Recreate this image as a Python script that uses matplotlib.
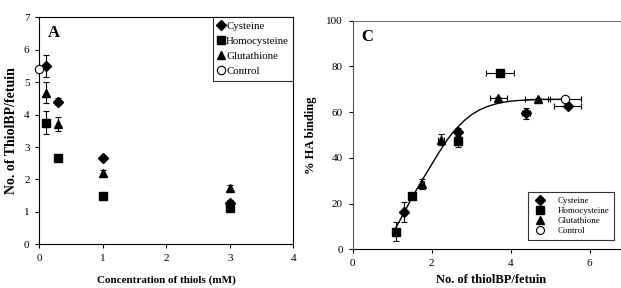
import matplotlib.pyplot as plt
from matplotlib.lines import Line2D

plt.rcParams['font.family'] = ['Liberation Serif', 'DejaVu Serif']

# Panel A: number of thiolBP per fetuin vs concentration of thiols
conc = [0.1, 0.3, 1, 3]
cys_a = [5.5, 4.4, 2.66, 1.27]
cys_a_err = [0.35, 0.1, 0.06, 0.1]
homo_a = [3.75, 2.67, 1.49, 1.12]
homo_a_err = [0.35, 0.08, 0.08, 0.08]
glu_a = [4.67, 3.7, 2.21, 1.75]
glu_a_err = [0.32, 0.22, 0.08, 0.08]
ctrl_a_x = [0]
ctrl_a = [5.42]

# Panel C: % HA binding vs number of thiolBP per fetuin
cys_cx = [1.3, 2.66, 4.38, 5.44]
cys_cy = [16.3, 51.2, 59.5, 62.7]
cys_cxerr = [0.06, 0.05, 0.1, 0.34]
cys_cyerr = [4.5, 2.0, 2.3, 1.0]
homo_cx = [1.1, 1.49, 2.67, 3.73]
homo_cy = [7.7, 23.3, 47.2, 77.0]
homo_cxerr = [0.05, 0.05, 0.05, 0.35]
homo_cyerr = [4.2, 1.0, 2.5, 1.5]
glu_cx = [1.76, 2.23, 3.69, 4.68]
glu_cy = [28.6, 48.0, 66.0, 65.6]
glu_cxerr = [0.05, 0.07, 0.21, 0.32]
glu_cyerr = [2.3, 2.5, 0.8, 0.8]
ctrl_cx = [5.37]
ctrl_cy = [65.6]
ctrl_cxerr = [0.42]

# fitted curve, points
curve_x = [1.08, 1.2, 1.3, 1.4, 1.5, 1.63, 1.76, 1.9, 2.04, 2.2, 2.38, 2.55, 2.7,
           2.85, 3.0, 3.2, 3.4, 3.6, 3.8, 4.0, 4.2, 4.4, 4.7, 5.0, 5.4]
curve_y = [9.0, 12.8, 16.0, 19.3, 22.6, 26.5, 30.3, 34.3, 38.3, 42.8, 47.6, 51.4, 54.2,
           56.7, 58.8, 60.9, 62.4, 63.5, 64.3, 64.8, 65.1, 65.3, 65.5, 65.6, 65.6]

labels = ['Cysteine', 'Homocysteine', 'Glutathione', 'Control']

fig = plt.figure(figsize=(6.21, 2.88), dpi=100)
W, H = 621, 288

axA = fig.add_axes([39.3 / W, 1 - 244.3 / H, 254 / W, 227 / H])
axC = fig.add_axes([352.7 / W, 1 - 249.3 / H, 276.5 / W, 228.6 / H])

mk = dict(color='black', linestyle='none', capsize=2.2, elinewidth=0.8, capthick=0.8)
styles = [dict(marker='D', ms=5), dict(marker='s', ms=5.5), dict(marker='^', ms=6),
          dict(marker='o', ms=6, mfc='white', mec='black', mew=0.8)]


def handles(ms_scale=1.0):
    out = []
    for st in styles:
        st = dict(st)
        st['ms'] = st['ms'] * ms_scale
        out.append(Line2D([], [], color='black', linestyle='none', **st))
    return out


axA.errorbar(conc, cys_a, yerr=cys_a_err, **styles[0], **mk)
axA.errorbar(conc, homo_a, yerr=homo_a_err, **styles[1], **mk)
axA.errorbar(conc, glu_a, yerr=glu_a_err, **styles[2], **mk)
axA.plot(ctrl_a_x, ctrl_a, linestyle='none', clip_on=False, zorder=5, **styles[3])

axA.set_xlim(0, 4)
axA.set_ylim(0, 7)
axA.set_xticks([0, 1, 2, 3, 4])
axA.set_yticks(range(8))
axA.tick_params(labelsize=8, length=3, width=0.8, direction='out', pad=4)
axA.set_xlabel('Concentration of thiols (mM)', fontsize=8, fontweight='bold', labelpad=9)
axA.set_ylabel('No. of ThiolBP/fetuin', fontsize=10, fontweight='bold', labelpad=4)
axA.text(0.035, 0.93, 'A', transform=axA.transAxes, fontsize=12, fontweight='bold',
         va='center', ha='left')
legA = axA.legend(handles(), labels, loc='upper right', fontsize=7.8, frameon=True,
                  fancybox=False, edgecolor='black', handlelength=0.6, handletextpad=0.2,
                  borderpad=0.4, labelspacing=0.5, borderaxespad=0.0)
legA.get_frame().set_linewidth(0.8)
for s in axA.spines.values():
    s.set_linewidth(0.8)

axC.plot(curve_x, curve_y, color='black', lw=1.0, zorder=1)
axC.errorbar(cys_cx, cys_cy, xerr=cys_cxerr, yerr=cys_cyerr, **styles[0], **mk)
axC.errorbar(homo_cx, homo_cy, xerr=homo_cxerr, yerr=homo_cyerr, **styles[1], **mk)
axC.errorbar(glu_cx, glu_cy, xerr=glu_cxerr, yerr=glu_cyerr, **styles[2], **mk)
axC.errorbar(ctrl_cx, ctrl_cy, xerr=ctrl_cxerr, **styles[3], **mk)

axC.set_xlim(0, 7)
axC.set_ylim(0, 100)
axC.set_xticks([0, 2, 4, 6])
axC.set_yticks(range(0, 101, 20))
axC.tick_params(labelsize=8, length=3, width=0.8, direction='out', pad=4)
axC.set_xlabel('No. of thiolBP/fetuin', fontsize=9, fontweight='bold', labelpad=4)
axC.set_ylabel('% HA binding', fontsize=9, fontweight='bold', labelpad=7)
axC.text(0.03, 0.93, 'C', transform=axC.transAxes, fontsize=12, fontweight='bold',
         va='center', ha='left')
legC = axC.legend(handles(0.95), labels, loc='lower left',
                  bbox_to_anchor=(175.3 / 276.5, 9 / 228.6),
                  fontsize=6.5, frameon=True, fancybox=False, edgecolor='black',
                  handlelength=1.5, handletextpad=1.2, borderpad=0.55, labelspacing=0.2,
                  borderaxespad=0.0)
legC.get_frame().set_linewidth(0.8)
for s in axC.spines.values():
    s.set_linewidth(0.8)
axC.spines['top'].set_color('#777777')
axC.spines['left'].set_color('#555555')

fig.savefig('out.png', dpi=100)
